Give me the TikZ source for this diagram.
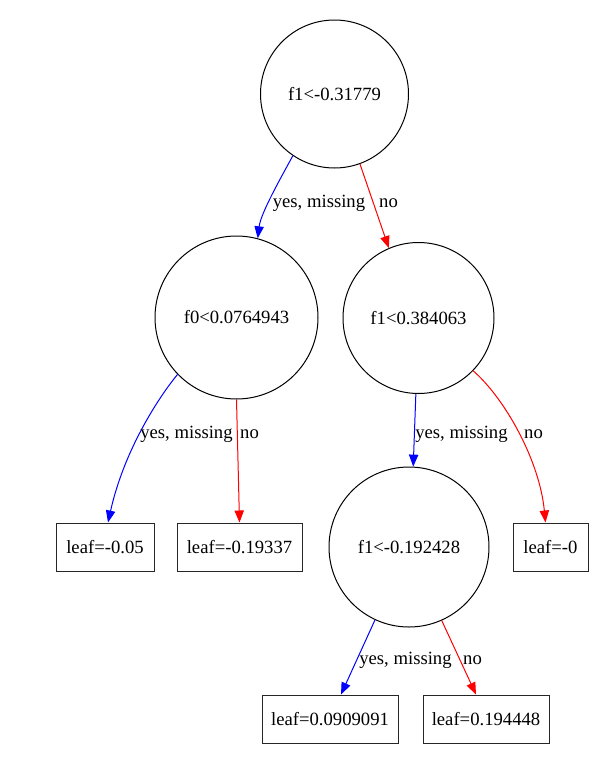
\documentclass[tikz,border=0pt]{standalone}
\usepackage{fontspec}
\setmainfont{Liberation Serif}
\usetikzlibrary{arrows.meta,calc}
\begin{document}
\begin{tikzpicture}[x=0.75pt,y=-0.75pt,
  every node/.style={font=\fontsize{14}{16}\selectfont, inner sep=0pt},
  split/.style={circle,draw=black,line width=0.75pt},
  leafbox/.style={rectangle,draw=black!85,line width=0.75pt,minimum height=36pt},
  yesedge/.style={draw=blue,line width=0.75pt,-{Triangle[length=9pt,width=7pt]}},
  noedge/.style={draw=red,line width=0.75pt,-{Triangle[length=9pt,width=7pt]}},
  lab/.style={}]
\useasboundingbox[fill=white] (0,0) rectangle (616,761);
% split nodes
\node[split,minimum size=111pt] (root) at (334.5,94) {f1<-0.31779};
\node[split,minimum size=122.25pt] (f0) at (236.5,317.5) {f0<0.0764943};
\node[split,minimum size=113.25pt] (f1) at (418.5,318) {f1<0.384063};
\node[split,minimum size=120pt] (f1b) at (409,547) {f1<-0.192428};
% leaves
\node[leafbox,minimum width=73.5pt] (l1) at (105,547) {leaf=-0.05};
\node[leafbox,minimum width=93.75pt] (l2) at (239.5,547) {leaf=-0.19337};
\node[leafbox,minimum width=56.25pt] (l3) at (550.5,547) {leaf=-0};
\node[leafbox,minimum width=102pt] (l4) at (330,719) {leaf=0.0909091};
\node[leafbox,minimum width=94.5pt] (l5) at (486,719) {leaf=0.194448};
% edges
\draw[yesedge] (root.-124) .. controls +(-12,22) and +(3,-25) .. (f0.75.5);
\draw[noedge] (root.-70) -- (f1.113);
\draw[yesedge] (f0.-136) .. controls +(-19,23) and +(16,-72) .. ($(l1.north)+(3,0)$);
\draw[noedge] (f0.south) -- (l2.north);
\draw[yesedge] (f1.-92.6) -- (f1b.87);
\draw[noedge] (f1.-44) .. controls +(32,28) and +(-6,-62) .. ($(l3.north)+(-5,0)$);
\draw[yesedge] (f1b.-115.6) -- ($(l4.north)+(11,0)$);
\draw[noedge] (f1b.-66) -- ($(l5.north)+(-10,0)$);
% edge labels
\node[lab] (t1) at (319,203) {yes, missing};
\node[lab] (t2) at (388.5,203) {no};
\node[lab] (t3) at (186.5,434) {yes, missing};
\node[lab] (t4) at (249.5,434) {no};
\node[lab] (t5) at (461.5,434) {yes, missing};
\node[lab] (t6) at (533.5,434) {no};
\node[lab] (t7) at (405.5,660) {yes, missing};
\node[lab] (t8) at (472.5,660) {no};
\end{tikzpicture}
\end{document}
